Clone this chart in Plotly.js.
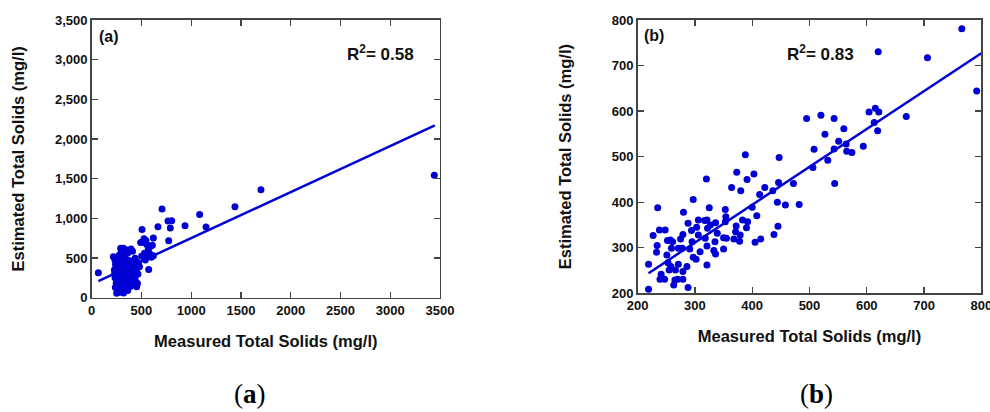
<!DOCTYPE html>
<html>
<head>
<meta charset="utf-8">
<script src="https://cdn.plot.ly/plotly-3.0.1.min.js"></script>
<style>html,body{margin:0;padding:0;background:#fff;}#chart{width:990px;height:412px;}</style>
</head>
<body>
<div id="chart"></div>
<script>
// Panel (a): measured vs estimated total solids (mg/l)
var measuredA = [67,3443,1701,1440,1085,707,1149,938,767,804,790,774,666,506,620,526,492,553,610,569,553,620,539,573,502,436,402,600,580,520,545,590,600,560,530,470,455,480,
  291,318,395,352,380,410,300,270,250,280,320,360,
  234,218,240,245,250,255,248,252,246,238,251,262,268,272,265,275,270,278,282,290,285,295,288,292,285,280,290,275,300,305,310,315,305,312,318,322,330,335,325,332,338,342,328,350,355,360,348,352,358,365,370,345,375,380,385,372,390,395,398,405,410,415,420,425,430,440,445,452,460,435,450,465,400,388,362,320,283,230,235,228,260,258,340,300,410,455,470];
var estimatedA = [315,1542,1361,1147,1050,1118,891,908,966,970,878,718,895,861,752,743,697,672,660,605,559,529,475,357,521,496,391,510,560,700,720,650,530,520,560,430,400,390,
  622,622,614,600,590,585,590,510,500,540,550,560,
  475,517,420,380,340,300,260,220,180,130,55,90,150,210,270,320,360,400,450,480,430,390,350,300,250,190,140,100,80,120,170,230,280,330,370,420,460,500,280,240,200,150,110,130,180,230,270,310,350,390,440,420,470,300,260,200,180,230,330,370,280,220,160,250,320,270,200,139,180,400,350,300,420,140,90,60,70,300,250,350,450,120,330,440,460,450,420];
var fitAX = [67,3449];
var fitAY = [210,2172];

// Panel (b)
var measuredB = [766,620,706,792,669,495,520,543,604,615,621,613,619,560,527,551,543,564,565,574,594,508,532,506,544,447,446,436,472,422,413,403,388,373,391,364,380,320,297,444,458,482,400,408,445,438,415,405,325,280,235,353,354,353,383,392,390,372,371,379,378,368,350,355,350,336,339,335,333,336,321,317,322,327,318,321,321,306,303,306,309,302,297,288,294,295,291,288,286,279,275,278,271,271,279,279,270,263,265,266,257,261,259,252,253,255,258,251,248,238,234,233,227,219,219,241,239,247];
var estimatedB = [781,730,717,644,588,584,591,584,598,606,598,575,557,561,549,534,517,528,512,509,523,516,492,476,441,498,443,425,441,432,417,462,504,466,450,432,425,451,406,400,394,395,389,370,347,329,319,312,388,378,388,384,368,357,361,357,344,348,335,328,314,319,322,321,297,355,332,313,294,286,361,360,343,350,321,304,262,361,345,328,291,275,279,354,338,313,297,213,259,329,319,299,299,264,248,231,231,218,229,251,317,313,299,316,267,251,259,284,339,339,305,290,327,264,209,242,231,231];
var fitBX = [219,800];
var fitBY = [244,727];

var blue = '#0000D4';
var fontFam = '"Liberation Sans", Arial, sans-serif';
var tickFont = {family: fontFam, size: 13, color: '#111', weight: 'bold'};
var titleFont = {family: fontFam, size: 16.5, color: '#111', weight: 'bold'};

var traces = [
  {x: measuredA, y: estimatedA, type: 'scatter', mode: 'markers', marker: {color: blue, size: 7}, xaxis: 'x', yaxis: 'y', hoverinfo: 'skip'},
  {x: fitAX, y: fitAY, type: 'scatter', mode: 'lines', line: {color: blue, width: 2.5}, xaxis: 'x', yaxis: 'y'},
  {x: measuredB, y: estimatedB, type: 'scatter', mode: 'markers', marker: {color: blue, size: 7}, xaxis: 'x2', yaxis: 'y2'},
  {x: fitBX, y: fitBY, type: 'scatter', mode: 'lines', line: {color: blue, width: 2.5}, xaxis: 'x2', yaxis: 'y2'}
];

function ax(extra) {
  var base = {showline: true, linecolor: '#444', linewidth: 1.5, mirror: 'ticks', ticks: 'inside', ticklen: 6, tickwidth: 1.2, tickcolor: '#444',
    showgrid: false, zeroline: false, tickfont: tickFont, automargin: false, ticklabeloverflow: 'allow'};
  for (var k in extra) base[k] = extra[k];
  return base;
}

var layout = {
  width: 990, height: 412,
  margin: {l: 0, r: 0, t: 0, b: 0},
  paper_bgcolor: '#fff', plot_bgcolor: '#fff',
  showlegend: false,
  xaxis: ax({domain: [0.0926, 0.4444], range: [0, 3500], dtick: 500, tick0: 0, anchor: 'y',
    title: {text: 'Measured Total Solids (mg/l)', font: titleFont, standoff: 18}}),
  yaxis: ax({domain: [0.2774, 0.9515], range: [0, 3500], dtick: 500, tick0: 0, tickformat: ',d', anchor: 'x',
    title: {text: 'Estimated Total Solids (mg/l)', font: titleFont, standoff: 26}}),
  xaxis2: ax({domain: [0.6441, 0.9912], range: [200, 800], dtick: 100, tick0: 200, anchor: 'y2',
    title: {text: 'Measured Total Solids (mg/l)', font: titleFont, standoff: 18}}),
  yaxis2: ax({domain: [0.2881, 0.9515], range: [200, 800], dtick: 100, tick0: 200, anchor: 'x2',
    title: {text: 'Estimated Total Solids (mg/l)', font: titleFont, standoff: 36}}),
  annotations: [
    {text: '(a)', xref: 'x domain', yref: 'y domain', x: 0.016, y: 0.94, xanchor: 'left', yanchor: 'middle', showarrow: false,
      font: {family: fontFam, size: 16, color: '#111', weight: 'bold'}},
    {text: 'R<sup>2</sup>= 0.58', xref: 'x domain', yref: 'y domain', x: 0.828, y: 0.881, xanchor: 'center', yanchor: 'middle', showarrow: false,
      font: {family: fontFam, size: 17, color: '#111', weight: 'bold'}},
    {text: '(b)', xref: 'x2 domain', yref: 'y2 domain', x: 0.013, y: 0.945, xanchor: 'left', yanchor: 'middle', showarrow: false,
      font: {family: fontFam, size: 16, color: '#111', weight: 'bold'}},
    {text: 'R<sup>2</sup>= 0.83', xref: 'x2 domain', yref: 'y2 domain', x: 0.533, y: 0.879, xanchor: 'center', yanchor: 'middle', showarrow: false,
      font: {family: fontFam, size: 17, color: '#111', weight: 'bold'}},
    {text: '(<b>a</b>)', xref: 'paper', yref: 'paper', x: 0.2525, y: 0.043, xanchor: 'center', yanchor: 'middle', showarrow: false,
      font: {family: '"Liberation Serif", "Times New Roman", serif', size: 27, color: '#000'}},
    {text: '(<b>b</b>)', xref: 'paper', yref: 'paper', x: 0.825, y: 0.043, xanchor: 'center', yanchor: 'middle', showarrow: false,
      font: {family: '"Liberation Serif", "Times New Roman", serif', size: 27, color: '#000'}}
  ]
};

Plotly.newPlot('chart', traces, layout, {staticPlot: true, displayModeBar: false});
</script>
</body>
</html>
